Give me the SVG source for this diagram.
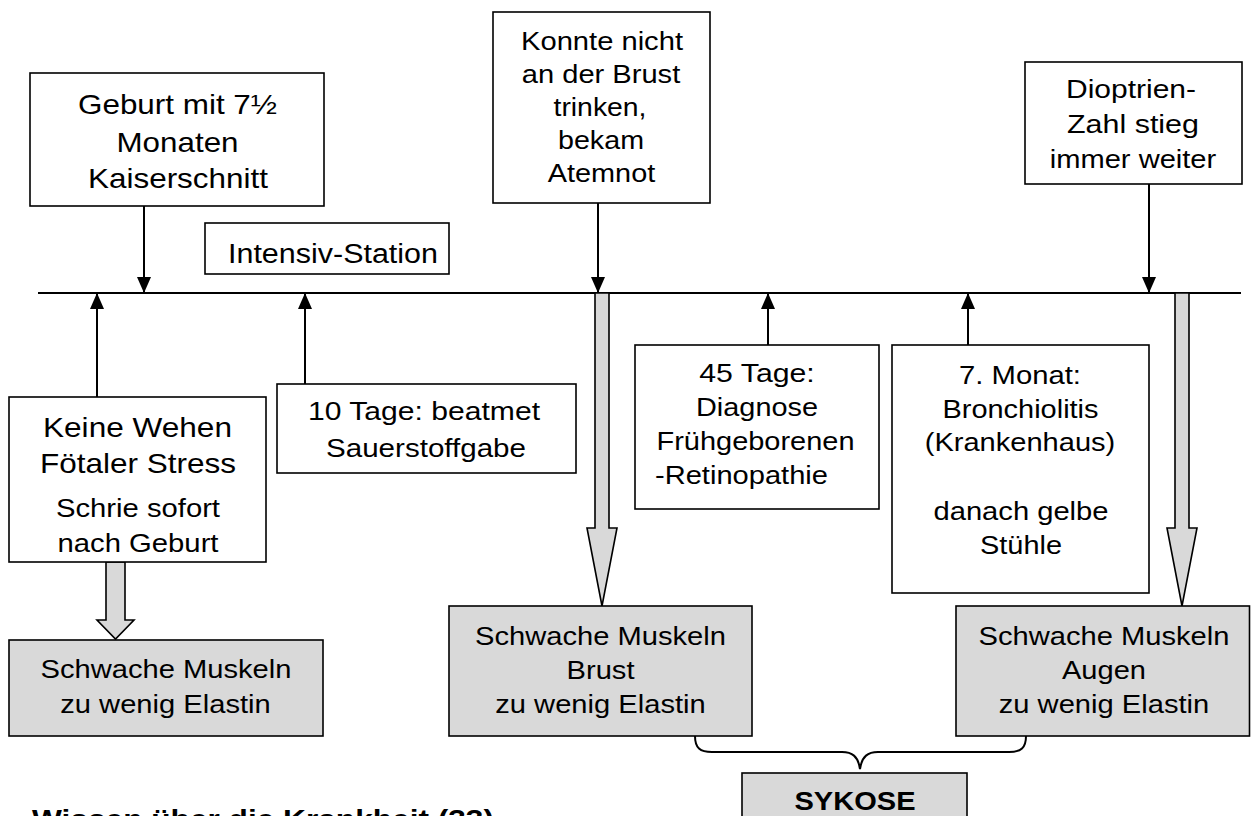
<svg xmlns="http://www.w3.org/2000/svg" width="1251" height="816" viewBox="0 0 1251 816">
<defs>
<style>
.box{fill:#fff;stroke:#000;stroke-width:1.6}
.gbox{fill:#d9d9d9;stroke:#000;stroke-width:1.6}
.t{font-family:"Liberation Sans",Arial,sans-serif;font-size:26px;text-anchor:middle;fill:#000}
.l{font-size:28px}
.m{font-size:27px}
.b{font-weight:bold}
.ln{stroke:#000;stroke-width:2;fill:none}
.hollow{fill:#d9d9d9;stroke:#000;stroke-width:1.6}
</style>
<marker id="ah" markerUnits="userSpaceOnUse" markerWidth="16" markerHeight="14" refX="16" refY="7" orient="auto">
<path d="M0,0 L16,7 L0,14 Z" fill="#000"/>
</marker>
</defs>
<rect width="1251" height="816" fill="#fff"/>

<g id="connectors">
<line class="ln" x1="38" y1="293" x2="1241" y2="293"/>
<line class="ln" x1="144" y1="206" x2="144" y2="293" marker-end="url(#ah)"/>
<line class="ln" x1="598" y1="203" x2="598" y2="293" marker-end="url(#ah)"/>
<line class="ln" x1="1149" y1="184" x2="1149" y2="293" marker-end="url(#ah)"/>
<line class="ln" x1="97" y1="397" x2="97" y2="293" marker-end="url(#ah)"/>
<line class="ln" x1="305" y1="384" x2="305" y2="293" marker-end="url(#ah)"/>
<line class="ln" x1="768" y1="345" x2="768" y2="293" marker-end="url(#ah)"/>
<line class="ln" x1="968" y1="345" x2="968" y2="293" marker-end="url(#ah)"/>
<polygon class="hollow" points="106,562 125,562 125,620 134,620 115.5,639 97,620 106,620"/>
<polygon class="hollow" points="595,293 609,293 609,528 617,528 602,606 587,528 595,528"/>
<polygon class="hollow" points="1175,293 1189,293 1189,528 1197,528 1182,606 1167,528 1175,528"/>
<path class="ln" d="M695,736 C695,748 700,752 712,752 L842,752 C852,752 858,756 860,769 C862,756 868,752 878,752 L1009,752 C1021,752 1026,748 1026,736"/>
</g>

<g id="geburt">
<rect class="box" x="30" y="73" width="294" height="133"/>
<text class="t l" x="177.5" y="114" textLength="199" lengthAdjust="spacingAndGlyphs">Geburt mit 7½</text>
<text class="t l" x="177.5" y="152" textLength="122" lengthAdjust="spacingAndGlyphs">Monaten</text>
<text class="t l" x="178" y="188" textLength="180" lengthAdjust="spacingAndGlyphs">Kaiserschnitt</text>
</g>

<g id="intensiv">
<rect class="box" x="205" y="223" width="244" height="51"/>
<text class="t m" x="333" y="263" textLength="210" lengthAdjust="spacingAndGlyphs">Intensiv-Station</text>
</g>

<g id="konnte">
<rect class="box" x="493" y="12" width="217" height="191"/>
<text class="t" x="602" y="50" textLength="162" lengthAdjust="spacingAndGlyphs">Konnte nicht</text>
<text class="t" x="601" y="83" textLength="158.5" lengthAdjust="spacingAndGlyphs">an der Brust</text>
<text class="t" x="600" y="116" textLength="93" lengthAdjust="spacingAndGlyphs">trinken,</text>
<text class="t" x="601" y="149" textLength="86" lengthAdjust="spacingAndGlyphs">bekam</text>
<text class="t" x="601.5" y="182" textLength="107.5" lengthAdjust="spacingAndGlyphs">Atemnot</text>
</g>

<g id="dioptrien">
<rect class="box" x="1025" y="62" width="217" height="122"/>
<text class="t" x="1131" y="98" textLength="130" lengthAdjust="spacingAndGlyphs">Dioptrien-</text>
<text class="t" x="1133" y="133" textLength="132" lengthAdjust="spacingAndGlyphs">Zahl stieg</text>
<text class="t" x="1133" y="168" textLength="166.5" lengthAdjust="spacingAndGlyphs">immer weiter</text>
</g>

<g id="keinewehen">
<rect class="box" x="9" y="397" width="257" height="165"/>
<text class="t l" x="137.5" y="437" textLength="189" lengthAdjust="spacingAndGlyphs">Keine Wehen</text>
<text class="t l" x="138" y="473" textLength="196" lengthAdjust="spacingAndGlyphs">Fötaler Stress</text>
<text class="t" x="138" y="517" textLength="164" lengthAdjust="spacingAndGlyphs">Schrie sofort</text>
<text class="t" x="138" y="551.5" textLength="161" lengthAdjust="spacingAndGlyphs">nach Geburt</text>
</g>

<g id="muskeln1">
<rect class="gbox" x="9" y="640" width="314" height="96"/>
<text class="t" x="166" y="678" textLength="251" lengthAdjust="spacingAndGlyphs">Schwache Muskeln</text>
<text class="t" x="165.5" y="713" textLength="210.5" lengthAdjust="spacingAndGlyphs">zu wenig Elastin</text>
</g>

<g id="zehntage">
<rect class="box" x="277" y="384" width="299" height="89"/>
<text class="t" x="424" y="420" textLength="232" lengthAdjust="spacingAndGlyphs">10 Tage: beatmet</text>
<text class="t" x="426" y="457" textLength="200" lengthAdjust="spacingAndGlyphs">Sauerstoffgabe</text>
</g>

<g id="fuenfundvierzig">
<rect class="box" x="635" y="345" width="244" height="164"/>
<text class="t" x="757" y="382" textLength="115.5" lengthAdjust="spacingAndGlyphs">45 Tage:</text>
<text class="t" x="757" y="416" textLength="122" lengthAdjust="spacingAndGlyphs">Diagnose</text>
<text class="t" x="755.5" y="449.5" textLength="198" lengthAdjust="spacingAndGlyphs">Frühgeborenen</text>
<text class="t" x="741.5" y="484" textLength="173" lengthAdjust="spacingAndGlyphs">-Retinopathie</text>
</g>

<g id="siebtermonat">
<rect class="box" x="892" y="345" width="257" height="248"/>
<text class="t" x="1020" y="384" textLength="122" lengthAdjust="spacingAndGlyphs">7. Monat:</text>
<text class="t" x="1020.5" y="418" textLength="156" lengthAdjust="spacingAndGlyphs">Bronchiolitis</text>
<text class="t" x="1020" y="451" textLength="190.5" lengthAdjust="spacingAndGlyphs">(Krankenhaus)</text>
<text class="t" x="1021" y="520" textLength="175" lengthAdjust="spacingAndGlyphs">danach gelbe</text>
<text class="t" x="1021" y="553.5" textLength="82" lengthAdjust="spacingAndGlyphs">Stühle</text>
</g>

<g id="muskelnbrust">
<rect class="gbox" x="449" y="606" width="303" height="130"/>
<text class="t" x="600.5" y="645" textLength="251" lengthAdjust="spacingAndGlyphs">Schwache Muskeln</text>
<text class="t" x="600.5" y="679" textLength="68" lengthAdjust="spacingAndGlyphs">Brust</text>
<text class="t" x="600.5" y="713" textLength="210.5" lengthAdjust="spacingAndGlyphs">zu wenig Elastin</text>
</g>

<g id="muskelnaugen">
<rect class="gbox" x="956" y="606" width="293.5" height="130"/>
<text class="t" x="1104" y="645" textLength="251" lengthAdjust="spacingAndGlyphs">Schwache Muskeln</text>
<text class="t" x="1104" y="679" textLength="84" lengthAdjust="spacingAndGlyphs">Augen</text>
<text class="t" x="1104" y="713" textLength="210.5" lengthAdjust="spacingAndGlyphs">zu wenig Elastin</text>
</g>

<g id="sykose">
<rect class="gbox" x="742" y="773" width="225" height="70"/>
<text class="t b" x="855" y="810" textLength="121" lengthAdjust="spacingAndGlyphs">SYKOSE</text>
</g>

<g id="wissen">
<text class="t l b" x="32" y="829" style="text-anchor:start" textLength="462" lengthAdjust="spacingAndGlyphs">Wissen über die Krankheit (33)</text>
</g>
</svg>
